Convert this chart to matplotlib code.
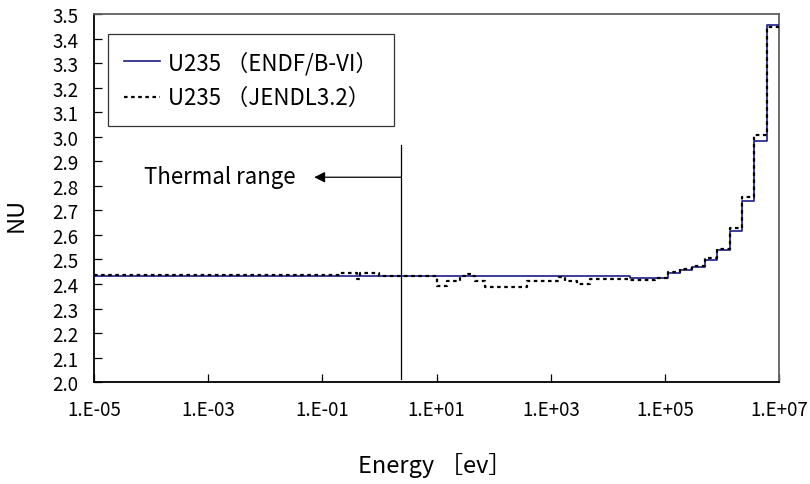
import matplotlib
matplotlib.use('Agg')
import matplotlib.pyplot as plt

plt.rcParams['font.family'] = ['Noto Sans CJK JP', 'DejaVu Sans']

# group boundaries [eV] and NU values (step, value holds until next edge)
endf_edges = [1e-5, 2.48e4, 6.74e4, 1.11e5, 1.83e5, 3.02e5, 4.98e5,
              8.21e5, 1.35e6, 2.23e6, 3.68e6, 6.07e6, 1e7]
endf_nu = [2.431, 2.424, 2.424, 2.443, 2.458, 2.469, 2.497,
           2.538, 2.617, 2.739, 2.982, 3.455]

jendl_edges = [1e-5, 0.2, 0.4, 0.45, 1.0, 10, 15, 26, 35, 40, 47, 70,
               383, 1.4e3, 1.8e3, 2.9e3, 4.9e3, 2.48e4, 6.74e4, 1.11e5,
               1.83e5, 3.02e5, 4.98e5, 8.21e5, 1.35e6, 2.23e6, 3.68e6,
               6.07e6, 1e7]
jendl_nu = [2.436, 2.443, 2.422, 2.445, 2.432, 2.39, 2.414, 2.432, 2.44,
            2.432, 2.414, 2.386, 2.414, 2.43, 2.414, 2.40, 2.42, 2.417,
            2.424, 2.448, 2.46, 2.473, 2.504, 2.543, 2.628, 2.755, 3.009,
            3.446]

x_ticks = [1e-5, 1e-3, 1e-1, 1e1, 1e3, 1e5, 1e7]
x_labels = ['1.E-05', '1.E-03', '1.E-01', '1.E+01', '1.E+03', '1.E+05', '1.E+07']
y_ticks = [2.0, 2.1, 2.2, 2.3, 2.4, 2.5, 2.6, 2.7, 2.8, 2.9, 3.0, 3.1, 3.2, 3.3, 3.4, 3.5]

thermal_cut = 2.4  # eV

fig = plt.figure(figsize=(8.1, 4.85), dpi=100)
ax = fig.add_axes([0.116, 0.21, 0.846, 0.759])

ax.step(endf_edges, endf_nu + [endf_nu[-1]], where='post',
        color='#1c1c8a', lw=1.2, label='U235 （ENDF/B-VI）', zorder=3)
ax.step(jendl_edges, jendl_nu + [jendl_nu[-1]], where='post',
        color='black', lw=1.6, ls=(0, (1.6, 1.6)), label='U235 （JENDL3.2）', zorder=4)

ax.plot([thermal_cut, thermal_cut], [2.012, 2.966], color='black', lw=0.9)
ax.annotate('', xy=(0.072, 2.835), xytext=(thermal_cut, 2.835),
            arrowprops=dict(arrowstyle='-|>', color='black', lw=0.9,
                            mutation_scale=16, shrinkA=0, shrinkB=0))
ax.text(7.5e-5, 2.84, 'Thermal range', fontsize=16, va='center', ha='left')

ax.set_xscale('log')
ax.set_xlim(1e-5, 1e7)
ax.set_ylim(2.0, 3.5)
ax.set_xticks(x_ticks)
ax.set_xticklabels(x_labels)
ax.minorticks_off()
ax.set_yticks(y_ticks)
ax.set_yticklabels(['%.1f' % v for v in y_ticks])
ax.tick_params(direction='in', length=6, width=0.9, labelsize=13.5)
ax.tick_params(axis='x', pad=12)
ax.tick_params(axis='y', pad=11)

for s in ['top', 'right']:
    ax.spines[s].set_color('#606060')
    ax.spines[s].set_linewidth(1.3)
for s in ['left', 'bottom']:
    ax.spines[s].set_linewidth(1.3)

ax.set_xlabel('Energy ［ev］', fontsize=17)
ax.set_ylabel('NU', fontsize=17)
ax.xaxis.set_label_coords(0.497, -0.19)
ax.yaxis.set_label_coords(-0.097, 0.458)

leg = ax.legend(loc='upper left', bbox_to_anchor=(0.02, 0.946), fontsize=16,
                frameon=True, fancybox=False, edgecolor='black',
                handlelength=1.6, handletextpad=0.35, borderpad=0.75,
                labelspacing=0.55, borderaxespad=0)
leg.get_frame().set_linewidth(0.9)

fig.savefig('out.png', dpi=100)
